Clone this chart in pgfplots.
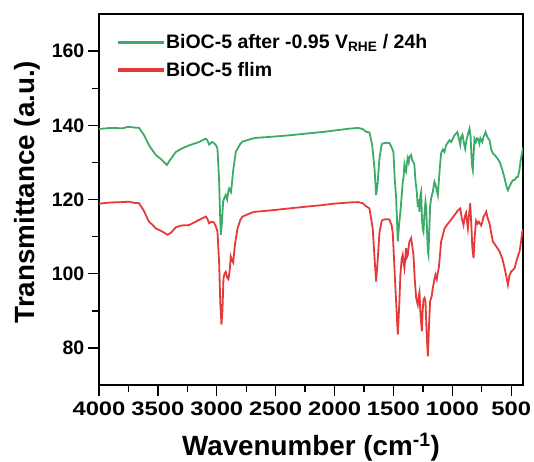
\documentclass[border=0pt]{standalone}
\usepackage{fontspec}
\setmainfont{Liberation Sans}
\usepackage{pgfplots}
\pgfplotsset{compat=1.18}
\definecolor{cgreen}{RGB}{60,170,104}
\definecolor{cred}{RGB}{228,58,58}
\begin{document}
\begin{tikzpicture}
\useasboundingbox (-99pt,-76pt) rectangle (435pt,385pt);
\begin{axis}[
  scale only axis,
  width=424pt, height=371pt,
  at={(0pt,0pt)}, anchor=south west,
  x dir=reverse,
  xmin=400, xmax=4000, ymin=70, ymax=170,
  xtick={4000,3500,3000,2500,2000,1500,1000,500},
  ytick={80,100,120,140,160},
  minor x tick num=1, minor y tick num=1,
  tick align=outside,
  xtick pos=left, ytick pos=left,
  major tick length=11pt, minor tick length=6.5pt,
  axis line style={line width=1.6pt},
  every tick/.style={line width=1.4pt, black},
  /pgf/number format/assume math mode=true,
  /pgf/number format/1000 sep={},
  tick label style={font=\fontsize{19.5}{20}\selectfont\bfseries},
  xticklabel style={xscale=1.22, inner sep=5.5pt},
  yticklabel style={inner sep=3.5pt},
  xlabel={Wavenumber (cm\textsuperscript{-1})},
  ylabel={Transmittance (a.u.)},
  label style={font=\fontsize{27.8}{29}\selectfont\bfseries},
  xlabel style={at={(axis description cs:0.5,0)}, anchor=north, yshift=-48pt, inner sep=0pt},
  ylabel style={at={(axis description cs:-0.139,0.52)}, anchor=south, inner sep=0pt},
  legend style={at={(0.045,0.95)}, anchor=north west, draw=none, fill=none,
    font=\fontsize{19.5}{21}\selectfont\bfseries, row sep=8pt, inner sep=0pt},
  legend cell align=left,
  legend image code/.code={\fill[#1] (0pt,-1pt) rectangle (44pt,1pt);},
]
\addplot[cgreen, line width=1.8pt] coordinates {
(4000,139.0)(3900,139.3)(3800,139.2)(3750,139.6)(3700,139.4)(3660,139.3)(3620,137.5)(3575,134.6)(3540,133.0)(3518,132.0)(3470,130.8)(3424,129.3)(3400,130.5)(3348,132.8)(3300,133.7)(3235,134.6)(3150,135.5)(3093,136.4)(3080,136.0)(3065,134.8)(3040,135.5)(3023,135.2)(3005,134.5)(2994,133.7)(2980,125)(2970,114)(2966,110.5)(2958,113)(2946,119.4)(2935,120.5)(2924,121.2)(2912,120)(2900,122.5)(2895,123)(2880,122)(2872,124)(2860,128)(2838,132.9)(2800,135.0)(2782,135.6)(2700,136.4)(2668,136.6)(2500,137.0)(2385,137.3)(2200,137.9)(2101,138.2)(2000,138.6)(1874,139.1)(1800,139.3)(1761,139.0)(1730,138.2)(1704,138.1)(1680,134.6)(1660,128)(1647,121.2)(1635,124)(1619,131)(1600,134.8)(1591,135.1)(1560,135.3)(1534,135.2)(1515,134)(1500,132.8)(1490,126)(1477,120.3)(1463,108.7)(1450,114)(1443,115.9)(1430,121)(1421,124.8)(1414,126)(1407,129.3)(1400,128)(1393,127.5)(1385,130)(1379,131.1)(1370,130)(1364,131.5)(1350,132)(1340,130.5)(1330,130)(1322,129.3)(1313,125)(1302,122.1)(1293,118)(1285,120)(1279,116.7)(1272,121)(1265,122)(1258,115)(1251,112)(1245,111.3)(1237,116)(1228,119.4)(1222,118)(1215,112)(1208,106)(1203,105.1)(1195,112)(1189,118)(1180,120.3)(1166,122.1)(1152,124.8)(1143,124)(1132,122.5)(1123,121.2)(1115,124.8)(1105,129)(1095,132.5)(1080,133.5)(1067,132.8)(1052,134.7)(1024,136)(1010,135.5)(982,137.3)(957,138.2)(945,136.5)(933,134.7)(924,137)(914,137.5)(900,135)(891,133.7)(880,136)(868,137.5)(854,139.1)(845,137)(838,132)(832,129)(826,127.9)(818,133)(812,136.4)(800,135.5)(790,136.5)(783,136.4)(770,135)(762,136.5)(755,136)(745,135.5)(735,137)(725,137.5)(718,138.2)(705,137)(696,136.5)(684,136)(670,133.5)(656,132.4)(641,132)(620,131.2)(599,130.2)(580,128.5)(556,125.7)(540,123.5)(528,122.5)(515,123.5)(500,124.5)(486,125.2)(470,125.3)(455,126)(443,126.1)(430,128)(420,130.5)(406,132.8)(400,134)
};
\addlegendentry{BiOC-5 after -0.95 V\textsubscript{RHE} / 24h}
\addplot[cred, line width=1.8pt] coordinates {
(4000,118.9)(3900,119.2)(3800,119.3)(3745,119.4)(3700,119.1)(3660,119.0)(3620,117)(3575,114.0)(3540,113)(3518,112.2)(3470,111.5)(3419,110.5)(3390,111)(3348,112.5)(3300,113)(3235,113.1)(3150,114.5)(3093,115.4)(3080,114.8)(3065,113.6)(3045,114)(3023,113.8)(3005,112.5)(2994,111.3)(2980,103)(2970,92)(2960,86.3)(2952,90)(2943,98.8)(2934,100)(2924,100.5)(2912,99)(2901,98.5)(2890,101)(2881,104.6)(2870,103.5)(2861,103)(2845,108)(2824,112.2)(2800,114.5)(2782,115.4)(2700,116.5)(2668,116.7)(2500,117.2)(2385,117.6)(2200,118.2)(2101,118.5)(2000,118.9)(1874,119.2)(1800,119.3)(1761,119)(1733,118.2)(1704,117.6)(1685,114)(1676,112.2)(1660,104)(1647,97.9)(1635,103)(1619,111)(1600,114.2)(1591,114.5)(1560,114.7)(1534,114.6)(1515,113)(1506,111)(1495,104)(1483,96.1)(1463,83.6)(1450,92)(1441,99.7)(1430,104)(1421,105.1)(1414,103)(1407,101.5)(1400,104)(1392,106.9)(1385,104.5)(1378,105)(1370,107.5)(1364,108.7)(1350,109.6)(1340,107.5)(1330,105)(1318,98)(1307,93.4)(1293,91.6)(1285,94)(1279,95)(1270,89)(1259,84.5)(1252,90)(1245,93)(1236,93.5)(1228,92.5)(1218,84)(1208,77.7)(1198,86)(1189,92.5)(1175,94)(1166,96.1)(1155,98)(1143,99.7)(1132,98.5)(1122,100.5)(1115,101.5)(1105,105)(1095,108.7)(1080,110.5)(1066,112.2)(1045,113.2)(1024,114)(1000,115)(982,115.8)(965,116.5)(954,117)(933,117.6)(920,115)(905,113.1)(893,115.5)(883,116.4)(875,114)(868,112.2)(858,116)(848,119)(840,114)(830,107)(820,104.2)(810,110)(798,114.3)(785,113.5)(775,114)(765,113.5)(755,113)(745,114)(735,115.4)(722,116)(712,116.7)(700,115)(684,113.5)(670,111)(656,108.7)(630,107.5)(599,106)(575,104)(556,101.5)(540,99)(528,97)(515,99.5)(500,100.6)(485,101)(471,101.5)(455,103.5)(440,105)(429,106)(415,109)(406,111.3)(400,112)
};
\addlegendentry{BiOC-5 flim}
\end{axis}
\end{tikzpicture}
\end{document}
